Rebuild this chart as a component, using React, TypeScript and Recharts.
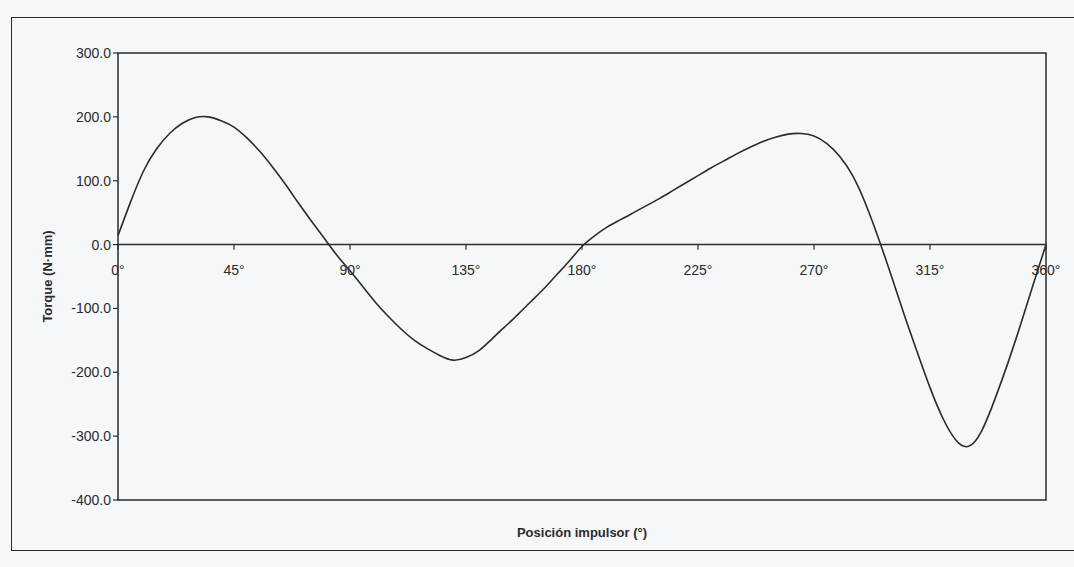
import {
  Label,
  Line,
  LineChart,
  ReferenceArea,
  ReferenceDot,
  ReferenceLine,
  XAxis,
  YAxis,
} from "recharts";

// angle of the impeller, degrees
const ANGLES = [
  0, 5, 10, 15, 20, 25, 30, 35, 40, 45, 50, 55, 60, 65, 70, 75, 80, 85, 90, 95,
  100, 105, 110, 115, 120, 125, 130, 135, 140, 145, 150, 155, 160, 165, 170,
  175, 180, 185, 190, 195, 200, 205, 210, 215, 220, 225, 230, 235, 240, 245,
  250, 255, 260, 265, 270, 275, 280, 285, 290, 295, 300, 305, 310, 315, 320,
  325, 330, 335, 340, 345, 350, 355, 360,
];

// torque, N·mm
const TORQUE = [
  14, 68, 116, 150, 174, 190, 199, 200, 194, 184, 167, 146, 121, 94, 65, 37,
  10, -17, -41, -66, -91, -113, -133, -150, -163, -174, -181, -177, -166, -148,
  -129, -110, -90, -70, -48, -26, -3, 14, 28, 39, 50, 61, 72, 84, 96, 108, 120,
  131, 142, 152, 161, 168, 173, 174, 170, 158, 138, 108, 64, 10, -49, -110,
  -168, -224, -272, -306, -316, -292, -244, -188, -127, -63, 0,
];

const X_TICKS = [0, 45, 90, 135, 180, 225, 270, 315, 360];
const Y_TICKS = [-400, -300, -200, -100, 0, 100, 200, 300];

const INK = "#2b2b2b";
const FONT = "'Liberation Sans', Arial, sans-serif";

const data = ANGLES.map((a, i) => ({ angle: a, torque: TORQUE[i] }));

export default function App() {
  return (
    <div
      style={{
        position: "absolute",
        left: 0,
        top: 0,
        width: 1074,
        height: 567,
        overflow: "hidden",
        background: "#f6f7f9",
        fontFamily: FONT,
      }}
    >
      {/* page frame from the scan */}
      <div
        style={{
          position: "absolute",
          left: 11,
          top: 17,
          width: 1100,
          height: 532,
          border: `1.5px solid ${INK}`,
        }}
      />
      <LineChart
        width={1074}
        height={567}
        data={data}
        margin={{ top: 53, right: 28, bottom: 27, left: 38 }}
        style={{ position: "absolute", left: 0, top: 0 }}
      >
        <XAxis
          dataKey="angle"
          type="number"
          domain={[0, 360]}
          ticks={X_TICKS}
          tick={false}
          tickLine={false}
          axisLine={false}
          height={40}
        >
          <Label
            value="Posición impulsor (°)"
            position="insideBottom"
            offset={3}
            style={{ fontFamily: FONT, fontSize: 13, fontWeight: 700, fill: INK }}
          />
        </XAxis>
        <YAxis
          type="number"
          domain={[-400, 300]}
          ticks={Y_TICKS}
          interval={0}
          width={80}
          axisLine={false}
          tickLine={{ stroke: INK, strokeWidth: 1.2 }}
          tickSize={5}
          tickMargin={2}
          tickFormatter={(v: number) => v.toFixed(1)}
          tick={{ fontFamily: FONT, fontSize: 14, fill: INK }}
        >
          <Label
            value="Torque (N·mm)"
            angle={-90}
            position="insideLeft"
            offset={9}
            style={{
              fontFamily: FONT,
              fontSize: 13,
              fontWeight: 700,
              fill: INK,
              textAnchor: "middle",
            }}
          />
        </YAxis>
        <ReferenceArea
          x1={0}
          x2={360}
          y1={-400}
          y2={300}
          fill="none"
          stroke={INK}
          strokeWidth={1.5}
        />
        <ReferenceLine y={0} stroke={INK} strokeWidth={1.5} />
        {X_TICKS.map((t) => (
          <ReferenceLine
            key={`tk${t}`}
            segment={[
              { x: t, y: 0 },
              { x: t, y: -8 },
            ]}
            stroke={INK}
            strokeWidth={1.2}
          />
        ))}
        {X_TICKS.map((t) => (
          <ReferenceDot
            key={`lb${t}`}
            x={t}
            y={0}
            r={0}
            fill="none"
            stroke="none"
            label={{
              value: `${t}°`,
              position: "bottom",
              offset: 20,
              style: { fontFamily: FONT, fontSize: 14, fill: INK },
            }}
          />
        ))}
        <Line
          type="natural"
          dataKey="torque"
          stroke={INK}
          strokeWidth={1.6}
          dot={false}
          isAnimationActive={false}
        />
      </LineChart>
    </div>
  );
}
